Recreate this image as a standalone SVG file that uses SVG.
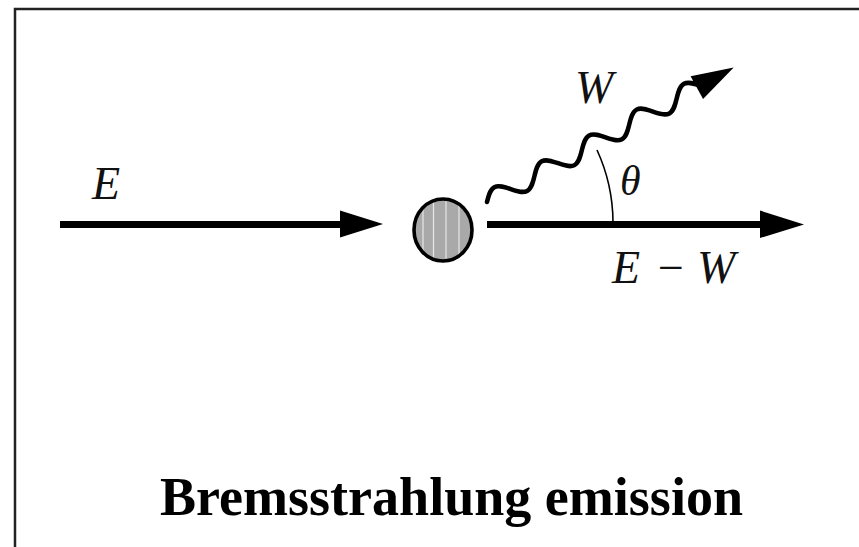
<svg xmlns="http://www.w3.org/2000/svg" width="859" height="547" viewBox="0 0 859 547">
<style>
.frame{fill:none;stroke:#222;stroke-width:2.5}
.beam{stroke:#000;stroke-width:7;fill:none}
.head{fill:#000}
.math{font-family:"Liberation Serif","Times New Roman",serif;font-style:italic;fill:#111}
.op{font-style:normal}
.title{font-family:"Liberation Serif","Times New Roman",serif;font-weight:bold;fill:#000}
.wave{fill:none;stroke:#000;stroke-width:4.5;stroke-linecap:round}
.arc{fill:none;stroke:#000;stroke-width:1.6}
.stripe{stroke:#e8e8e8;stroke-width:1.2}
</style>
<defs>
<clipPath id="nucClip"><ellipse cx="443" cy="230" rx="29" ry="31"/></clipPath>
</defs>
<rect x="0" y="0" width="859" height="547" fill="#fff"/>
<rect class="frame" x="15" y="9" width="900" height="600"/>

<g id="connectors">
  <g id="incoming">
    <line class="beam" x1="60" y1="224.5" x2="345" y2="224.5"/>
    <polygon class="head" points="340,210.5 383,224 340,237.5"/>
  </g>
  <g id="outgoing">
    <line class="beam" x1="487" y1="224.5" x2="765" y2="224.5"/>
    <polygon class="head" points="760,210.5 804,224.5 760,238"/>
  </g>
  <g id="photon" transform="translate(487,202) rotate(-28.6)">
    <path class="wave" d="M0,0 C4.4,-4.87 8.61,-9.5 13.5,-9.5 S22.6,-4.87 27,0 S35.61,9.5 40.5,9.5 S49.6,4.87 54,0 S62.61,-9.5 67.5,-9.5 S76.6,-4.87 81,0 S89.61,9.5 94.5,9.5 S103.6,4.87 108,0 S116.61,-9.5 121.5,-9.5 S130.6,-4.87 135,0 S143.61,9.5 148.5,9.5 S157.6,4.87 162,0 S170.61,-9.5 175.5,-9.5 S184.6,-4.87 189,0 S197.61,9.5 202.5,9.5 S211.6,4.87 216,0 S224.61,-9.5 229.5,-9.5 S238.6,-4.87 243,0"/>
    <polygon class="head" points="239,-13 281,0 239,13"/>
  </g>
  <path id="angle" class="arc" d="M597,150 A175,175 0 0 1 613,222"/>
</g>

<g id="nucleus">
  <ellipse cx="443" cy="230" rx="29" ry="31" fill="#a9a9a9"/>
  <g clip-path="url(#nucClip)">
    <line class="stripe" x1="423" y1="195" x2="423" y2="265"/>
    <line class="stripe" x1="433.5" y1="195" x2="433.5" y2="265"/>
    <line class="stripe" x1="446" y1="195" x2="446" y2="265"/>
    <line class="stripe" x1="459" y1="195" x2="459" y2="265"/>
  </g>
  <ellipse cx="443" cy="230" rx="29" ry="31" fill="none" stroke="#000" stroke-width="3.6"/>
</g>

<g id="labels">
  <text id="label-E" class="math" x="92" y="199" font-size="46">E</text>
  <text id="label-W" class="math" x="575" y="103" font-size="46">W</text>
  <text id="label-theta" class="math" x="620" y="195" font-size="42">θ</text>
  <text id="label-EW" class="math" y="283" font-size="46"><tspan x="612">E</tspan><tspan class="op" x="658">−</tspan><tspan x="697">W</tspan></text>
  <text id="title" class="title" x="451.5" y="515" font-size="54" text-anchor="middle" textLength="583" lengthAdjust="spacingAndGlyphs">Bremsstrahlung emission</text>
</g>
</svg>
